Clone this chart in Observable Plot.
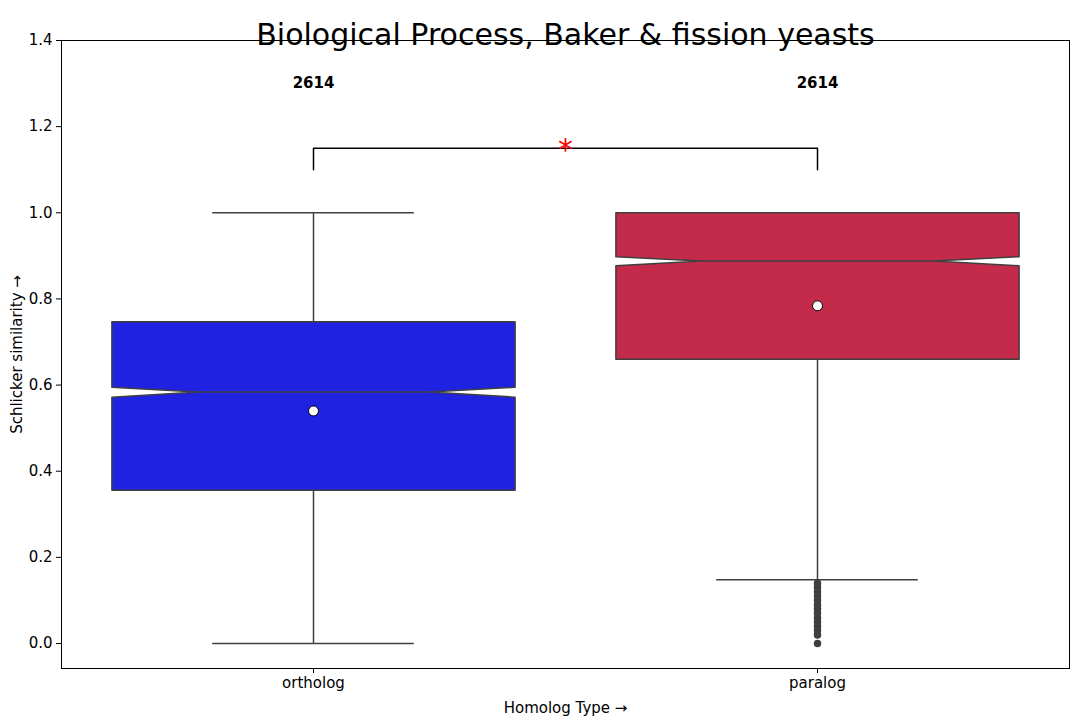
<!DOCTYPE html>
<html><head><meta charset="utf-8">
<script src="https://cdn.jsdelivr.net/npm/d3@7"></script>
<script src="https://cdn.jsdelivr.net/npm/@observablehq/plot@0.6"></script>
<style>body{margin:0;background:#fff}</style>
</head><body><div id="chart"></div>
<script>
const categories = ["ortholog", "paralog"];
const colors = ["#1f22e0", "#c42b4b"];
const q1 = [0.356, 0.660];
const median = [0.584, 0.888];
const q3 = [0.747, 1.0];
const notchLo = [0.572, 0.877];
const notchHi = [0.595, 0.898];
const whiskLo = [0.0, 0.148];
const whiskHi = [1.0, 1.0];
const means = [0.540, 0.784];
const counts = [2614, 2614];
const paralogOutliers = [0.0, 0.02, 0.03, 0.04, 0.05, 0.06, 0.07, 0.08, 0.09, 0.10, 0.11, 0.12, 0.13, 0.14];

const hw = 0.4, ind = 0.17, capw = 0.2;
const poly = [];
categories.forEach((c, i) => {
  const pts = [
    [i - hw, q1[i]], [i - hw, notchLo[i]], [i - hw + ind, median[i]], [i - hw, notchHi[i]], [i - hw, q3[i]],
    [i + hw, q3[i]], [i + hw, notchHi[i]], [i + hw - ind, median[i]], [i + hw, notchLo[i]], [i + hw, q1[i]], [i - hw, q1[i]]
  ];
  pts.forEach(([x, y]) => poly.push({cat: c, i, x, y}));
});
const idx = categories.map((c, i) => i);

const chart = Plot.plot({
  width: 1080, height: 720,
  marginTop: 40, marginLeft: 61, marginRight: 11, marginBottom: 52,
  style: {fontFamily: "DejaVu Sans", fontSize: "15px", color: "#000"},
  x: {domain: [-0.5, 1.5], ticks: [0, 1], tickFormat: d => categories[d], label: "Homolog Type", labelAnchor: "center", labelOffset: 44, tickSize: 5},
  y: {domain: [-0.058, 1.4], ticks: d3.range(0, 1.41, 0.2), tickFormat: d3.format(".1f"), label: "Schlicker similarity", labelAnchor: "center", labelOffset: 50, tickSize: 5},
  marks: [
    Plot.frame({stroke: "#000"}),
    Plot.ruleX(idx, {x: d => d, y1: d => whiskLo[d], y2: d => q1[d], stroke: "#3f3f3f", strokeWidth: 1.5}),
    Plot.ruleX(idx, {x: d => d, y1: d => q3[d], y2: d => whiskHi[d], stroke: "#3f3f3f", strokeWidth: 1.5}),
    Plot.ruleY(idx, {y: d => whiskLo[d], x1: d => d - capw, x2: d => d + capw, stroke: "#3f3f3f", strokeWidth: 1.5}),
    Plot.ruleY(idx, {y: d => whiskHi[d], x1: d => d - capw, x2: d => d + capw, stroke: "#3f3f3f", strokeWidth: 1.5}),
    Plot.line(poly, {x: "x", y: "y", z: "cat", fill: d => colors[d.i], stroke: "#3f3f3f", strokeWidth: 1.5}),
    Plot.ruleY(idx, {y: d => median[d], x1: d => d - hw + ind, x2: d => d + hw - ind, stroke: "#3f3f3f", strokeWidth: 1.5}),
    Plot.dot(paralogOutliers, {x: 1, y: d => d, r: 3, fill: "#3f3f3f", stroke: "#3f3f3f"}),
    Plot.dot(idx, {x: d => d, y: d => means[d], r: 5, fill: "white", stroke: "black", strokeWidth: 1}),
    Plot.text(idx, {x: d => d, y: 1.3, text: d => String(counts[d]), fontWeight: "bold", fontSize: 15}),
    Plot.line([[0, 1.10], [0, 1.15], [1, 1.15], [1, 1.10]], {x: d => d[0], y: d => d[1], stroke: "#000", strokeWidth: 1.5}),
    Plot.text(["*"], {x: 0.5, y: 1.15, text: d => d, fill: "red", fontSize: 30, dy: 2}),
    Plot.text(["Biological Process, Baker & fission yeasts"], {frameAnchor: "top", text: d => d, fontSize: 30, dy: -17})
  ]
});
d3.select("#chart").append(() => chart);
</script></body></html>
